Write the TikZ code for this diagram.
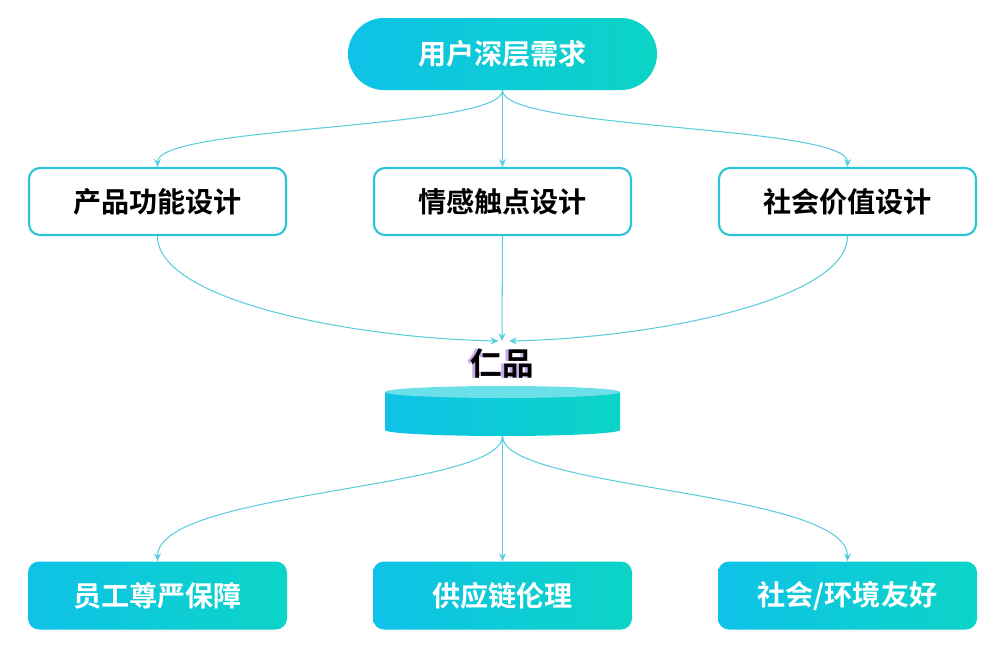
\documentclass[tikz,border=0pt]{standalone}
\usepackage{fontspec}
\usetikzlibrary{arrows.meta}
\newfontfamily\cjk{Noto Sans CJK SC}[BoldFont={Noto Sans CJK SC Bold}]
\definecolor{gleft}{RGB}{14,194,232}
\definecolor{gright}{RGB}{12,212,198}
\definecolor{rim}{RGB}{46,196,216}
\definecolor{wire}{RGB}{90,206,220}
\definecolor{disktop}{RGB}{108,224,232}
\definecolor{halo}{RGB}{200,168,232}
\tikzset{
  pill/.style={rounded corners=36*0.02cm,minimum width=309*0.02cm,minimum height=72*0.02cm,
    shading=axis,left color=gleft,right color=gright,shading angle=90,text=white},
  plainbox/.style={draw=rim,line width=1.2pt,rounded corners=0.22cm,fill=white,
    minimum width=257*0.02cm,minimum height=67*0.02cm,text=black},
  solidbox/.style={rounded corners=0.22cm,left color=gleft,right color=gright,
    minimum width=259*0.02cm,minimum height=68*0.02cm,text=white},
  link/.style={wire,line width=0.6pt,->,>={Stealth[length=4.5pt,width=4pt]}}
}
\begin{document}
\begin{tikzpicture}[x=0.02cm,y=-0.02cm,font=\cjk\bfseries\fontsize{16}{18}\selectfont]
\useasboundingbox(0,0)rectangle(1002,649);
% top
\node[pill](need)at(502.5,54){用户深层需求};
% design layer
\node[plainbox](func)at(157.5,201.5){产品功能设计};
\node[plainbox](emo)at(502.5,201.5){情感触点设计};
\node[plainbox](soc)at(847.5,201.5){社会价值设计};
% disk
\shade[left color=gleft,right color=gright](385,392)--(385,430)arc[start angle=180,end angle=0,x radius=117.5,y radius=6]--(620,392)--cycle;
\fill[disktop](502.5,392)ellipse[x radius=117.5,y radius=6];
\coordinate(disk)at(502.5,436);\coordinate(hub)at(502,341);
\node[text=halo,font=\cjk\bfseries\fontsize{18}{20}\selectfont]at(499,364){仁品};
\node[font=\cjk\bfseries\fontsize{18}{20}\selectfont](ren)at(502,364){仁品};
% outcomes
\node[solidbox](staff)at(157.5,595.5){员工尊严保障};
\node[solidbox](supply)at(502.5,595.5){供应链伦理};
\node[solidbox](env)at(847.5,595.5){社会/环境友好};
% links
\draw[link](need.south)..controls(502,130)and(157.5,125)..(func.north);
\draw[link](need.south)--(emo.north);
\draw[link](need.south)..controls(502,130)and(847.5,125)..(soc.north);
\draw[link](func.south)..controls(157.5,300)and(350,338)..([xshift=-2]hub);
\draw[link](emo.south)--(hub);
\draw[link](soc.south)..controls(847.5,300)and(655,338)..([xshift=4]hub);
\draw[link](disk)..controls(502.5,490)and(157.5,490)..(staff.north);
\draw[link](disk)--(supply.north);
\draw[link](disk)..controls(502.5,490)and(847.5,490)..(env.north);
\end{tikzpicture}
\end{document}
